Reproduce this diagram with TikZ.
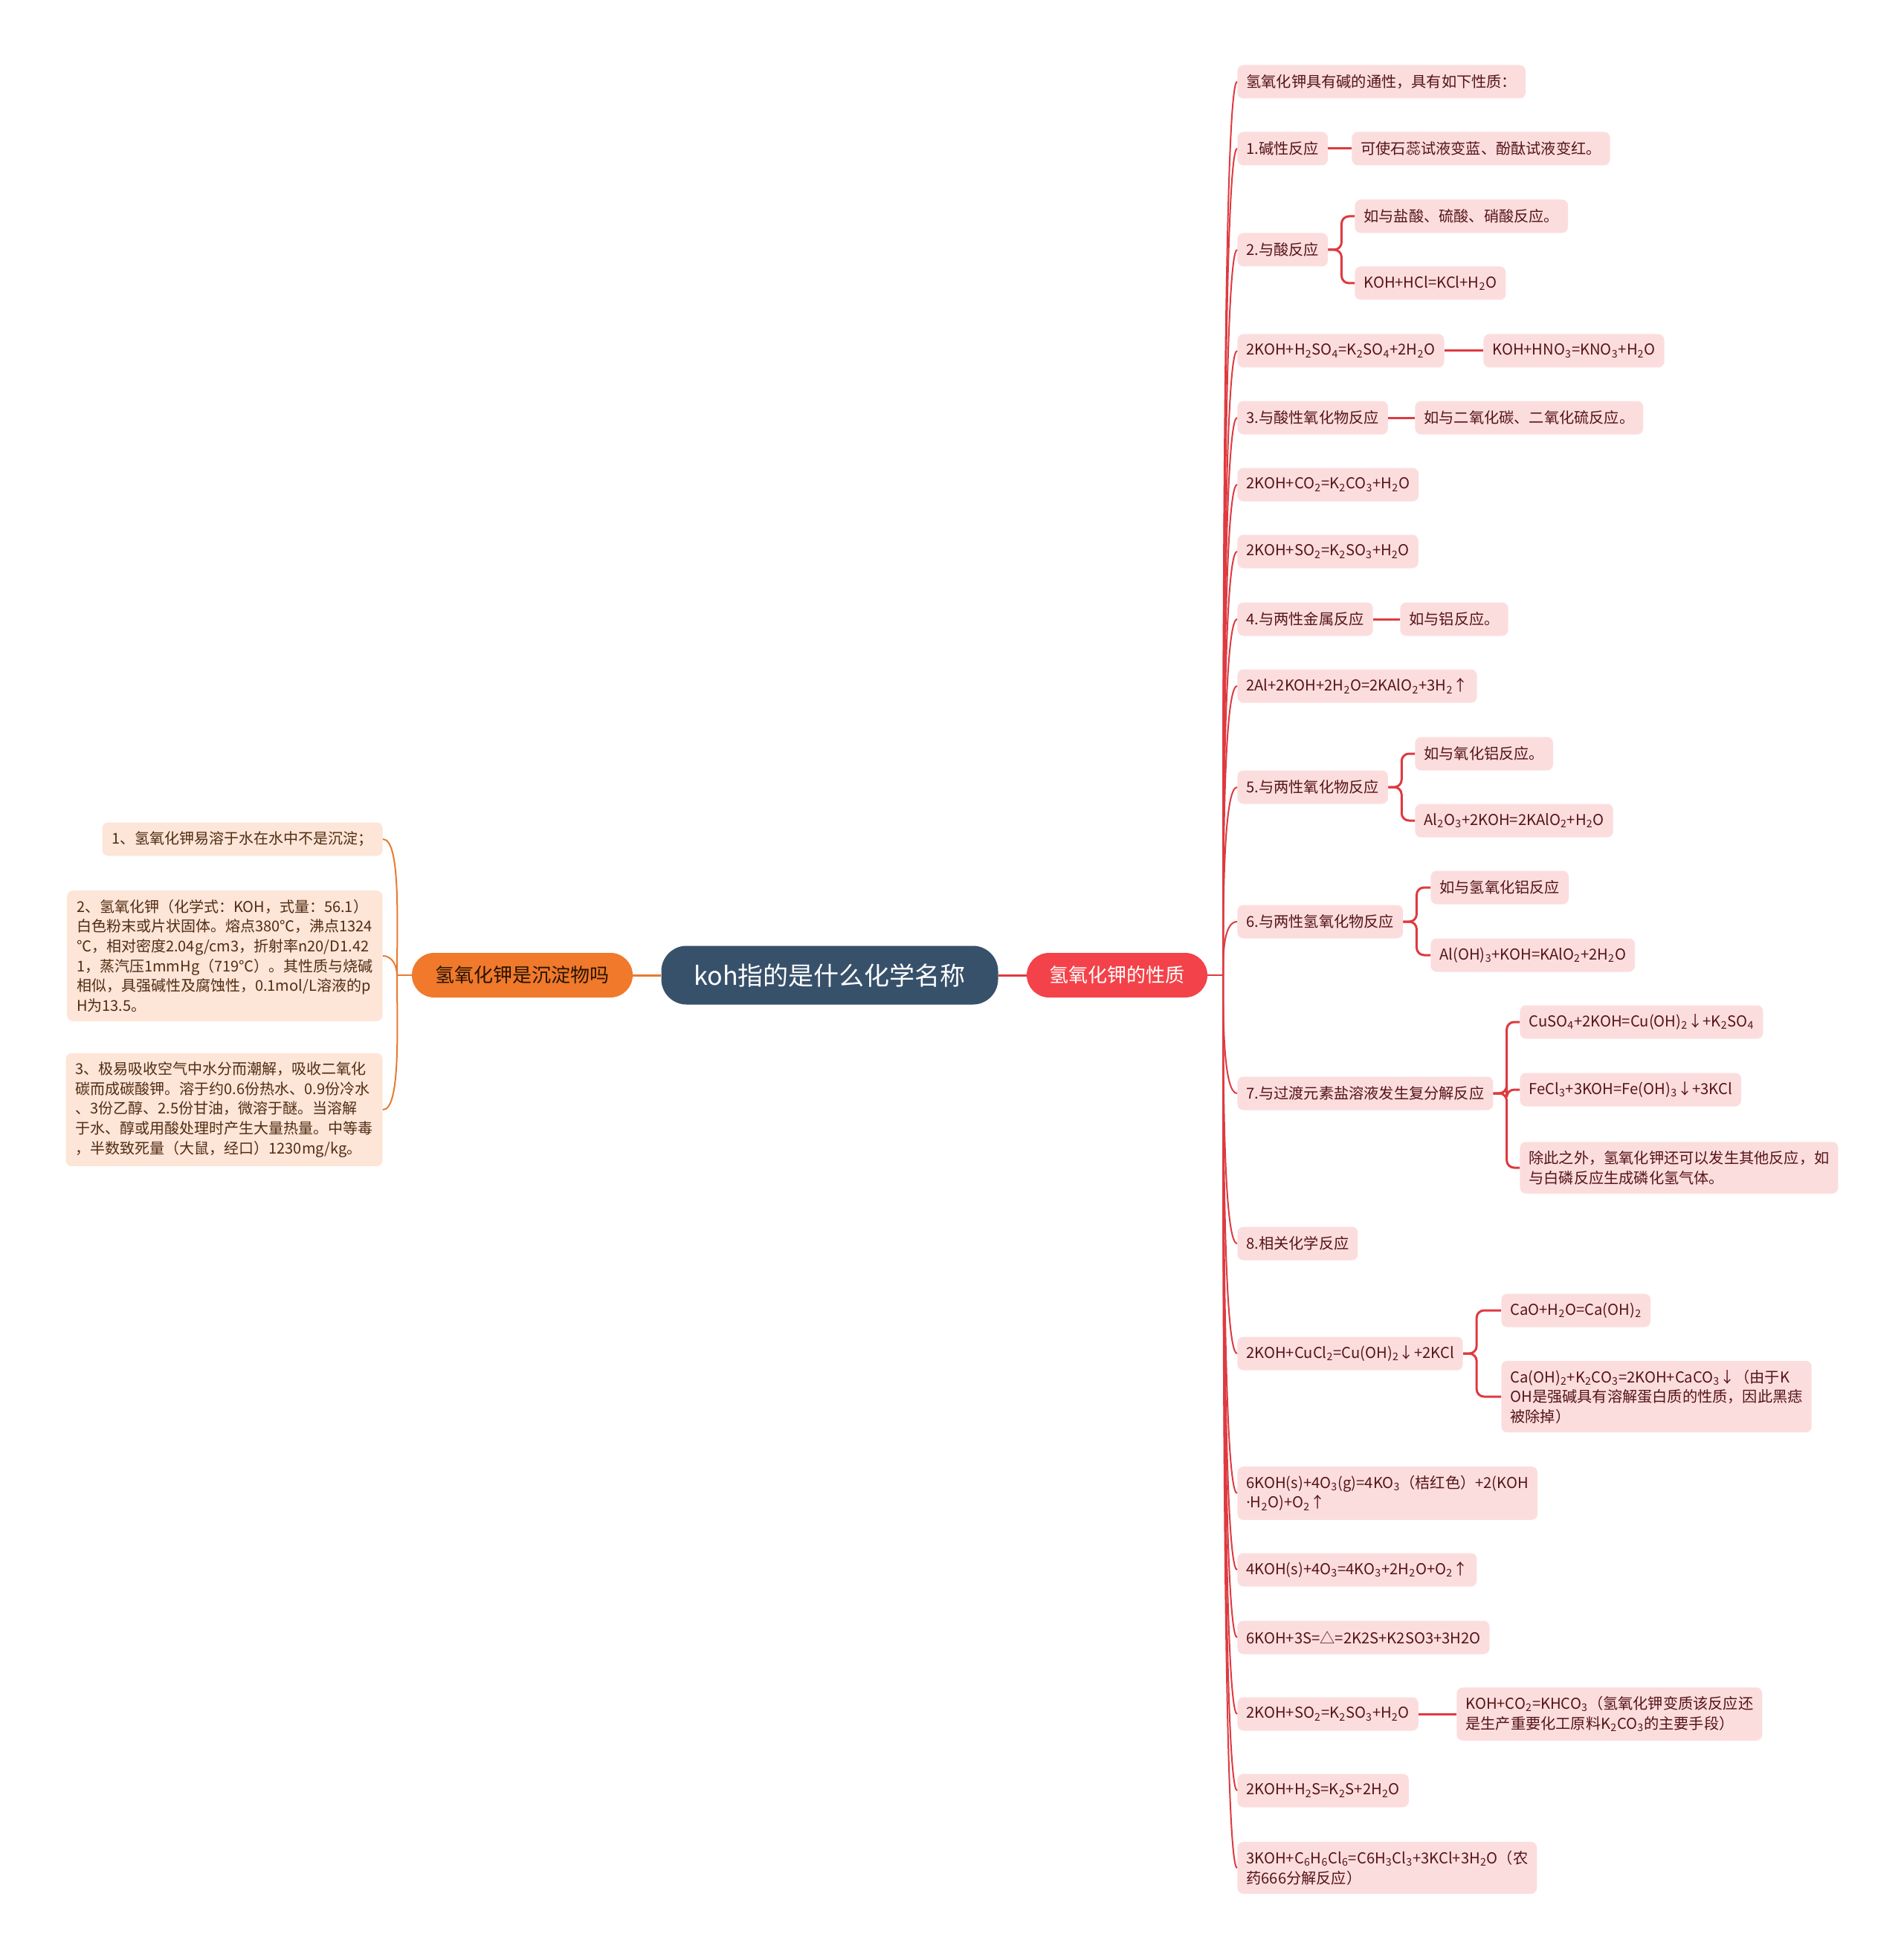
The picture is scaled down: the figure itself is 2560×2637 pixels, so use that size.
\documentclass[tikz,border=0pt]{standalone}
\usepackage{fontspec}
\setmainfont{Noto Sans CJK SC}
\newfontfamily\latinfont{Noto Sans}
\definecolor{hub}{RGB}{56, 81, 107}
\definecolor{orangepill}{RGB}{240, 121, 44}
\definecolor{redpill}{RGB}{243, 66, 73}
\definecolor{redline}{RGB}{222, 58, 64}
\definecolor{orangeline}{RGB}{232, 122, 48}
\definecolor{lightpink}{RGB}{252, 221, 221}
\definecolor{lightpeach}{RGB}{253, 229, 215}
\definecolor{darkmaroon}{RGB}{85, 20, 24}
\definecolor{darkbrown}{RGB}{80, 45, 20}
\newcommand{\ssub}[1]{\textsubscript{#1}}
\newcommand{\mdot}{{\latinfont ·}}

\begin{document}
\begin{tikzpicture}[x=0.5pt, y=-0.5pt,
  kid/.style={fill=lightpink, text=darkmaroon, rounded corners=4pt,
    inner xsep=6pt, inner ysep=6pt, minimum height=22.5pt, align=left,
    anchor=west, font=\fontsize{10.1}{13.3}\selectfont},
  note/.style={fill=lightpeach, text=darkbrown, rounded corners=4pt,
    inner xsep=6.5pt, inner ysep=6pt, minimum height=22.5pt, align=left,
    anchor=east, font=\fontsize{10}{13.3}\selectfont},
  pill/.style={rounded corners=15pt, minimum height=30pt, inner sep=0pt,
    font=\fontsize{13}{15}\selectfont},
  trunk/.style={redline, line width=1pt},
  fork/.style={redline, line width=1.5pt, rounded corners=5pt},
  ltrunk/.style={orangeline, line width=1pt},
  branchup/.style={out=90, in=180, in max distance=9pt},
  branchdown/.style={out=-90, in=180, in max distance=9pt}]

  \useasboundingbox (0,0) rectangle (2560,2637);

  % centre and the two main branches
  \node[fill=hub, text=white, rounded corners=17pt, minimum width=226.5pt,
    minimum height=39.5pt, font=\fontsize{17}{20}\selectfont] (root) at (1116,1312)
    {koh指的是什么化学名称};
  \node[pill, fill=orangepill, text=black!85!orange, minimum width=148.5pt] (precip)
    at (702.5,1312) {氢氧化钾是沉淀物吗};
  \node[pill, fill=redpill, text=white, minimum width=121.5pt] (props)
    at (1502.5,1312) {氢氧化钾的性质};
  \draw[orangeline, line width=1.5pt] (root) -- (precip);
  \draw[redline, line width=1.5pt] (root) -- (props);

  \coordinate (rtrunk) at (1645,1312);
  \coordinate (ltrunk) at (534,1312);

  % left side
  \node[note] (q1) at (515,1129) {1、氢氧化钾易溶于水在水中不是沉淀；};
  \node[note] (q2) at (515,1286) {2、氢氧化钾（化学式：KOH，式量：56.1）\\
    白色粉末或片状固体。熔点380℃，沸点1324\\
    ℃，相对密度2.04g/cm3，折射率n20/D1.42\\
    1，蒸汽压1mmHg（719℃）。其性质与烧碱\\
    相似，具强碱性及腐蚀性，0.1mol/L溶液的p\\
    H为13.5。};
  \node[note] (q3) at (515,1493) {3、极易吸收空气中水分而潮解，吸收二氧化\\
    碳而成碳酸钾。溶于约0.6份热水、0.9份冷水\\
    、3份乙醇、2.5份甘油，微溶于醚。当溶解\\
    于水、醇或用酸处理时产生大量热量。中等毒\\
    ，半数致死量（大鼠，经口）1230mg/kg。};
  \draw[ltrunk] (precip.west) -- (ltrunk);
  \draw[ltrunk] (ltrunk) to[out=90, in=0, in max distance=12pt] (q1.east);
  \draw[ltrunk] (ltrunk) to[out=90, in=0, in max distance=8pt] (q2.east);
  \draw[ltrunk] (ltrunk) to[out=-90, in=0, in max distance=12pt] (q3.east);

  % right side, first level
  \foreach \i/\y/\t in {
    0/110/{氢氧化钾具有碱的通性，具有如下性质：},
    1/200/{1.碱性反应},
    2/336/{2.与酸反应},
    3/472/{2KOH+H\ssub{2}SO\ssub{4}=K\ssub{2}SO\ssub{4}+2H\ssub{2}O},
    4/562/{3.与酸性氧化物反应},
    5/652/{2KOH+CO\ssub{2}=K\ssub{2}CO\ssub{3}+H\ssub{2}O},
    6/742/{2KOH+SO\ssub{2}=K\ssub{2}SO\ssub{3}+H\ssub{2}O},
    7/833/{4.与两性金属反应},
    8/923/{2Al+2KOH+2H\ssub{2}O=2KAlO\ssub{2}+3H\ssub{2}↑},
    9/1059/{5.与两性氧化物反应},
    10/1240/{6.与两性氢氧化物反应},
    11/1471/{7.与过渡元素盐溶液发生复分解反应},
    12/1673/{8.相关化学反应},
    13/1821/{2KOH+CuCl\ssub{2}=Cu(OH)\ssub{2}↓+2KCl},
    14/2009/{6KOH(s)+4O\ssub{3}(g)=4KO\ssub{3}（桔红色）+2(KOH\\\mdot H\ssub{2}O)+O\ssub{2}↑},
    15/2112/{4KOH(s)+4O\ssub{3}=4KO\ssub{3}+2H\ssub{2}O+O\ssub{2}↑},
    16/2203/{6KOH+3S=△=2K2S+K2SO3+3H2O},
    17/2306/{2KOH+SO\ssub{2}=K\ssub{2}SO\ssub{3}+H\ssub{2}O},
    18/2409/{2KOH+H\ssub{2}S=K\ssub{2}S+2H\ssub{2}O},
    19/2513/{3KOH+C\ssub{6}H\ssub{6}Cl\ssub{6}=C6H\ssub{3}Cl\ssub{3}+3KCl+3H\ssub{2}O（农\\药666分解反应）}}
    \node[kid] (p\i) at (1664,\y) {\t};

  \draw[trunk] (props.east) -- (rtrunk);
  \foreach \i in {0,...,10}
    \draw[trunk] (rtrunk) to[branchup] (p\i.west);
  \foreach \i in {11,...,19}
    \draw[trunk] (rtrunk) to[branchdown] (p\i.west);

  % right side, second level
  \node[kid] (p1a) at (1818,200) {可使石蕊试液变蓝、酚酞试液变红。};
  \node[kid] (p2a) at (1822,291) {如与盐酸、硫酸、硝酸反应。};
  \node[kid] (p2b) at (1822,381) {KOH+HCl=KCl+H\ssub{2}O};
  \node[kid] (p3a) at (1995,472) {KOH+HNO\ssub{3}=KNO\ssub{3}+H\ssub{2}O};
  \node[kid] (p4a) at (1903,562) {如与二氧化碳、二氧化硫反应。};
  \node[kid] (p7a) at (1883,833) {如与铝反应。};
  \node[kid] (p9a) at (1903,1014) {如与氧化铝反应。};
  \node[kid] (p9b) at (1903,1104) {Al\ssub{2}O\ssub{3}+2KOH=2KAlO\ssub{2}+H\ssub{2}O};
  \node[kid] (p10a) at (1924,1194) {如与氢氧化铝反应};
  \node[kid] (p10b) at (1924,1285) {Al(OH)\ssub{3}+KOH=KAlO\ssub{2}+2H\ssub{2}O};
  \node[kid] (p11a) at (2044,1375) {CuSO\ssub{4}+2KOH=Cu(OH)\ssub{2}↓+K\ssub{2}SO\ssub{4}};
  \node[kid] (p11b) at (2044,1466) {FeCl\ssub{3}+3KOH=Fe(OH)\ssub{3}↓+3KCl};
  \node[kid] (p11c) at (2044,1571) {除此之外，氢氧化钾还可以发生其他反应，如\\与白磷反应生成磷化氢气体。};
  \node[kid] (p13a) at (2019,1763) {CaO+H\ssub{2}O=Ca(OH)\ssub{2}};
  \node[kid] (p13b) at (2019,1879) {Ca(OH)\ssub{2}+K\ssub{2}CO\ssub{3}=2KOH+CaCO\ssub{3}↓（由于K\\OH是强碱具有溶解蛋白质的性质，因此黑痣\\被除掉）};
  \node[kid] (p17a) at (1959,2306) {KOH+CO\ssub{2}=KHCO\ssub{3}（氢氧化钾变质该反应还\\是生产重要化工原料K\ssub{2}CO\ssub{3}的主要手段）};

  \draw[fork] (p1.east) -- (p1a.west);
  \draw[fork] (p3.east) -- (p3a.west);
  \draw[fork] (p4.east) -- (p4a.west);
  \draw[fork] (p7.east) -- (p7a.west);
  \draw[fork] (p17.east) -- (p17a.west);
  \foreach \a/\b in {p2/p2a, p2/p2b, p9/p9a, p9/p9b, p10/p10a, p10/p10b,
                     p11/p11a, p11/p11b, p11/p11c, p13/p13a, p13/p13b}
    \draw[fork] (\a.east) -- ++(18,0) |- (\b.west);

\end{tikzpicture}
\end{document}
